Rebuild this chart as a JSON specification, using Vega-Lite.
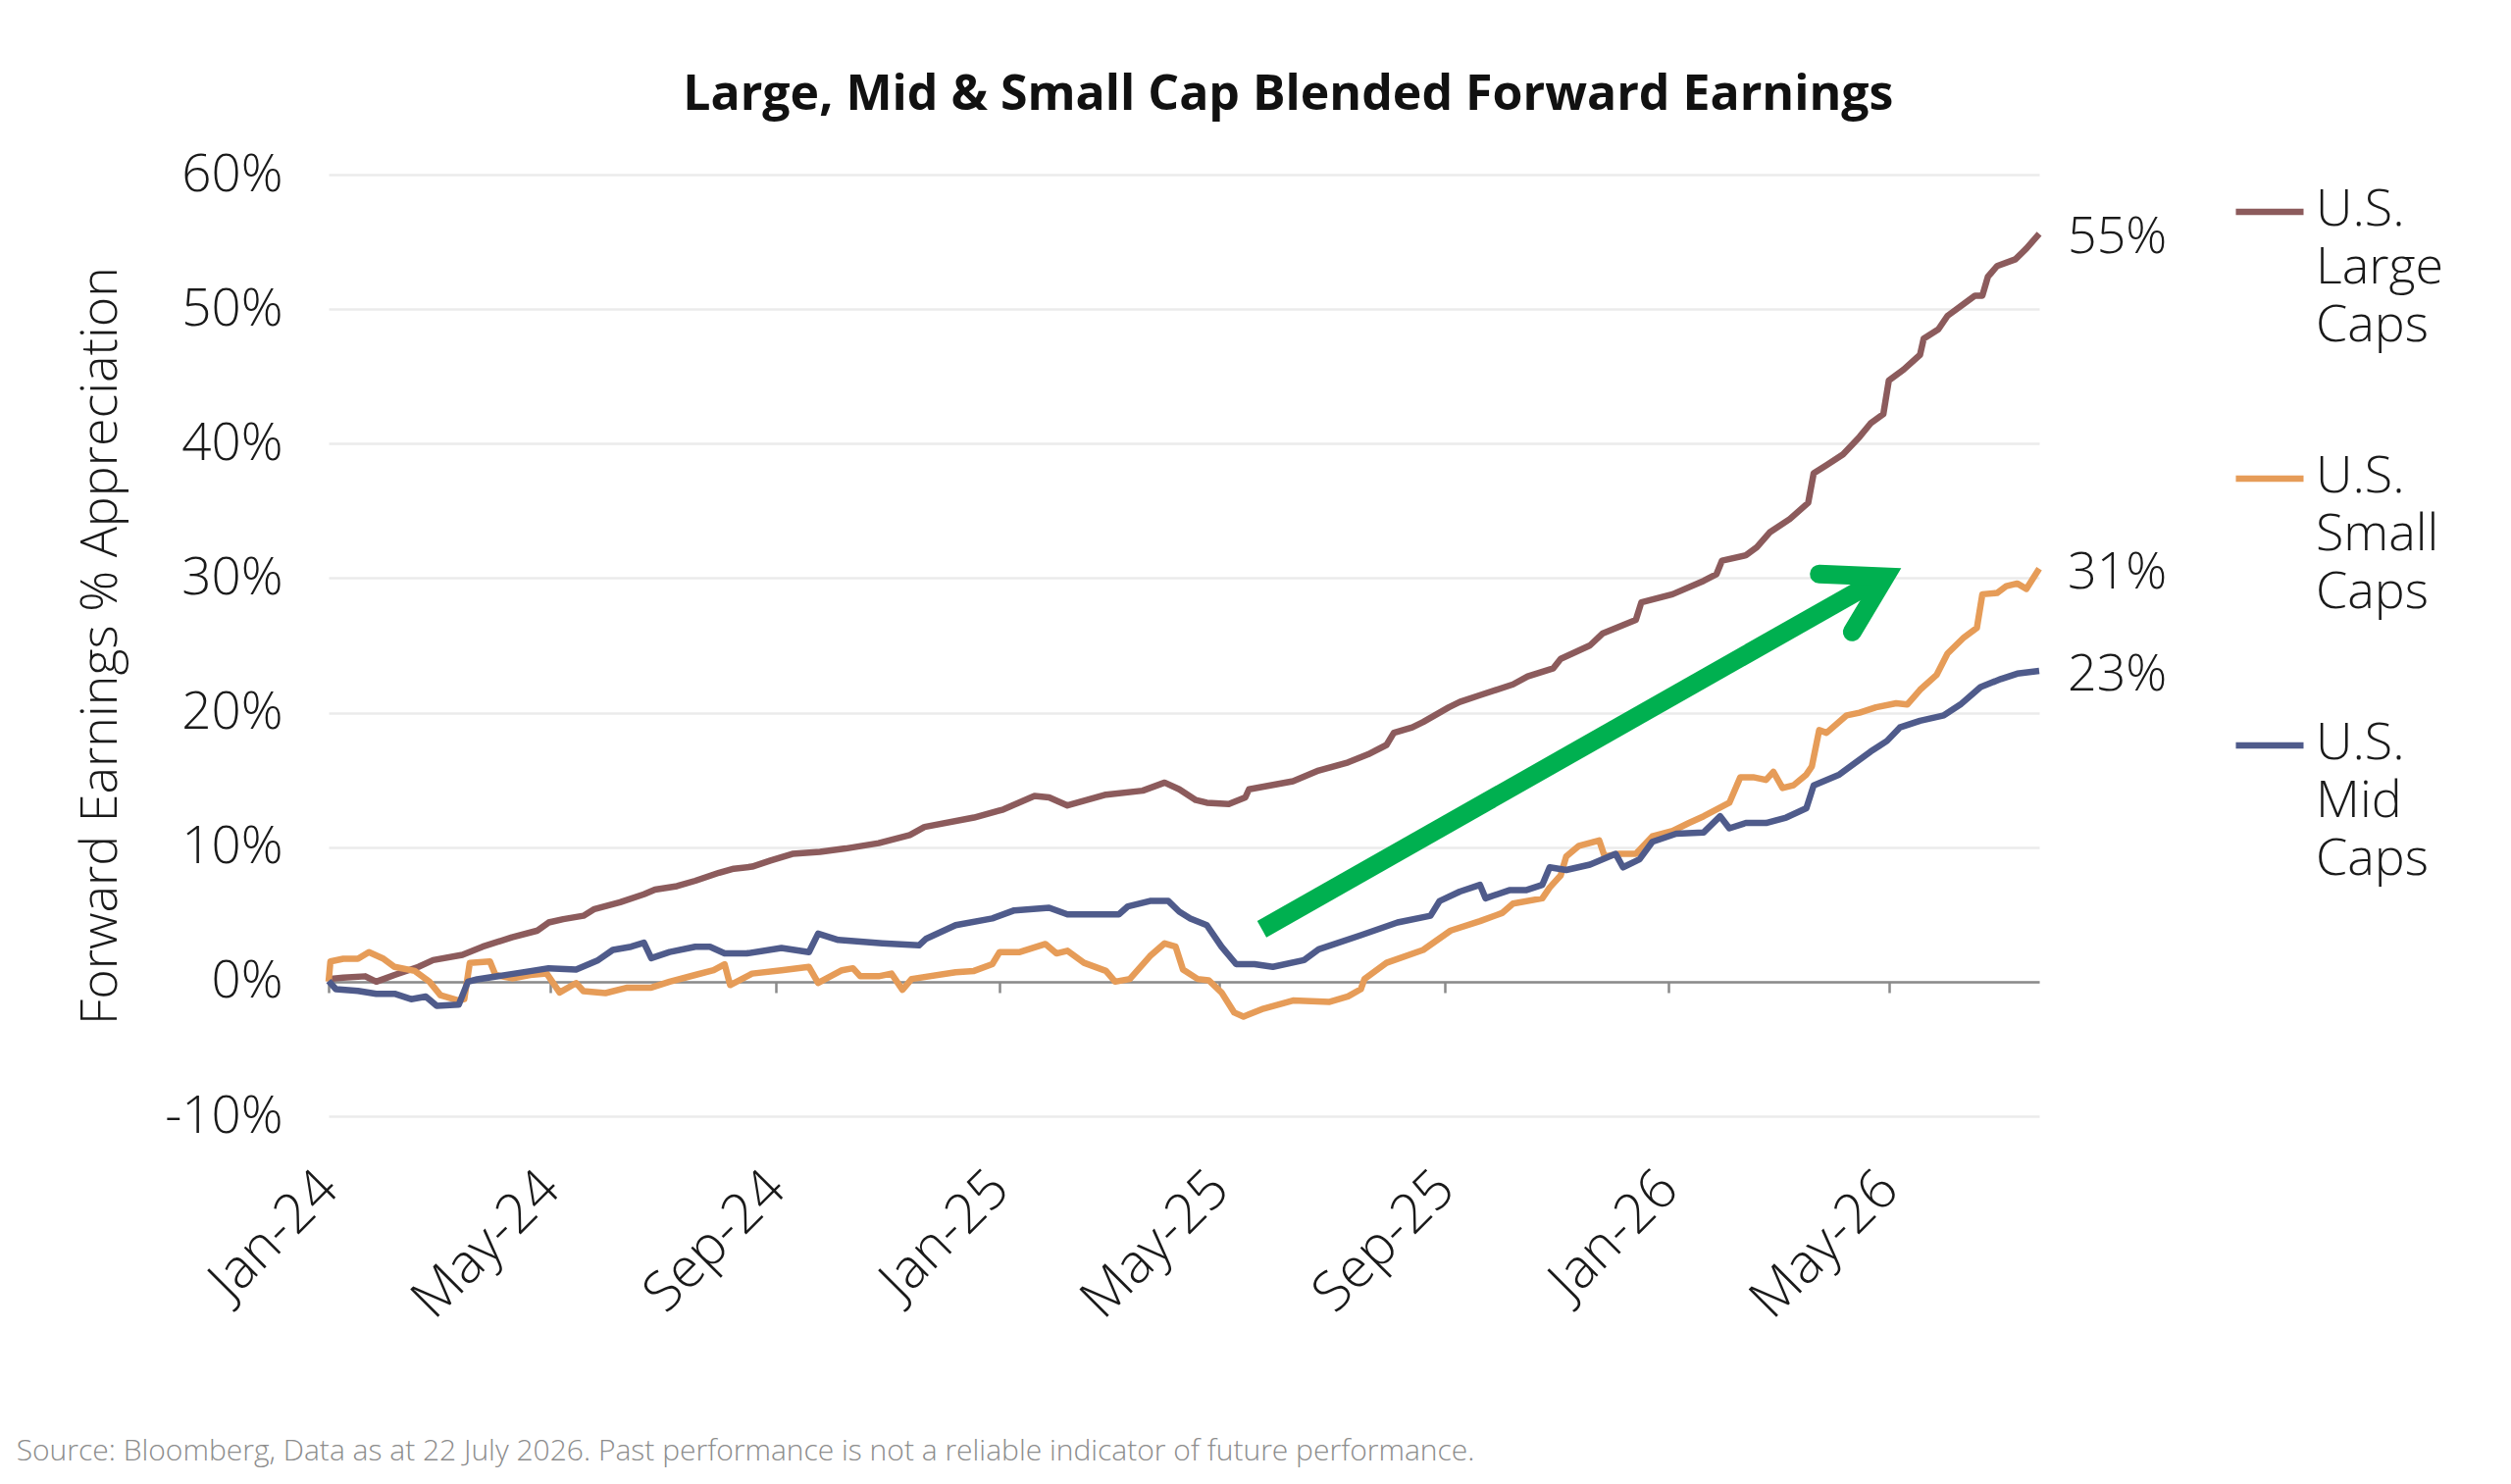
{
  "$schema": "https://vega.github.io/schema/vega-lite/v6.json",
  "background": "white",
  "padding": {"left": 16, "top": 72, "right": 20, "bottom": 18},
  "config": {"font": "Open Sans", "view": {"stroke": null}},
  "title": {
    "text": "Source: Bloomberg, Data as at 22 July 2026. Past performance is not a reliable indicator of future performance.",
    "orient": "bottom",
    "anchor": "start",
    "frame": "bounds",
    "fontSize": 30,
    "fontWeight": 300,
    "color": "#8c8c8c",
    "offset": 111,
    "dx": -60
  },
  "resolve": {"legend": {"color": "independent"}},
  "datasets": {
    "series": [
      {"series": "U.S. Large Caps", "date": "2024-01-01", "value": 0.2},
      {"series": "U.S. Large Caps", "date": "2024-01-09", "value": 0.3},
      {"series": "U.S. Large Caps", "date": "2024-01-21", "value": 0.4},
      {"series": "U.S. Large Caps", "date": "2024-01-27", "value": 0.0},
      {"series": "U.S. Large Caps", "date": "2024-02-06", "value": 0.5},
      {"series": "U.S. Large Caps", "date": "2024-02-19", "value": 1.1},
      {"series": "U.S. Large Caps", "date": "2024-02-27", "value": 1.6},
      {"series": "U.S. Large Caps", "date": "2024-03-14", "value": 2.0},
      {"series": "U.S. Large Caps", "date": "2024-03-25", "value": 2.6},
      {"series": "U.S. Large Caps", "date": "2024-04-10", "value": 3.3},
      {"series": "U.S. Large Caps", "date": "2024-04-24", "value": 3.8},
      {"series": "U.S. Large Caps", "date": "2024-04-30", "value": 4.4},
      {"series": "U.S. Large Caps", "date": "2024-05-08", "value": 4.65},
      {"series": "U.S. Large Caps", "date": "2024-05-19", "value": 4.9},
      {"series": "U.S. Large Caps", "date": "2024-05-25", "value": 5.4},
      {"series": "U.S. Large Caps", "date": "2024-06-08", "value": 5.9},
      {"series": "U.S. Large Caps", "date": "2024-06-21", "value": 6.5},
      {"series": "U.S. Large Caps", "date": "2024-06-27", "value": 6.85},
      {"series": "U.S. Large Caps", "date": "2024-07-09", "value": 7.1},
      {"series": "U.S. Large Caps", "date": "2024-07-19", "value": 7.5},
      {"series": "U.S. Large Caps", "date": "2024-08-01", "value": 8.1},
      {"series": "U.S. Large Caps", "date": "2024-08-09", "value": 8.4},
      {"series": "U.S. Large Caps", "date": "2024-08-19", "value": 8.55},
      {"series": "U.S. Large Caps", "date": "2024-08-29", "value": 9.0},
      {"series": "U.S. Large Caps", "date": "2024-09-10", "value": 9.5},
      {"series": "U.S. Large Caps", "date": "2024-09-25", "value": 9.65},
      {"series": "U.S. Large Caps", "date": "2024-10-09", "value": 9.9},
      {"series": "U.S. Large Caps", "date": "2024-10-27", "value": 10.3},
      {"series": "U.S. Large Caps", "date": "2024-11-13", "value": 10.9},
      {"series": "U.S. Large Caps", "date": "2024-11-21", "value": 11.5},
      {"series": "U.S. Large Caps", "date": "2024-12-18", "value": 12.2},
      {"series": "U.S. Large Caps", "date": "2025-01-03", "value": 12.8},
      {"series": "U.S. Large Caps", "date": "2025-01-20", "value": 13.8},
      {"series": "U.S. Large Caps", "date": "2025-01-28", "value": 13.7},
      {"series": "U.S. Large Caps", "date": "2025-02-07", "value": 13.1},
      {"series": "U.S. Large Caps", "date": "2025-02-28", "value": 13.9},
      {"series": "U.S. Large Caps", "date": "2025-03-20", "value": 14.2},
      {"series": "U.S. Large Caps", "date": "2025-04-01", "value": 14.8},
      {"series": "U.S. Large Caps", "date": "2025-04-09", "value": 14.3},
      {"series": "U.S. Large Caps", "date": "2025-04-18", "value": 13.5},
      {"series": "U.S. Large Caps", "date": "2025-04-24", "value": 13.3},
      {"series": "U.S. Large Caps", "date": "2025-05-06", "value": 13.2},
      {"series": "U.S. Large Caps", "date": "2025-05-15", "value": 13.7},
      {"series": "U.S. Large Caps", "date": "2025-05-17", "value": 14.3},
      {"series": "U.S. Large Caps", "date": "2025-06-10", "value": 14.9},
      {"series": "U.S. Large Caps", "date": "2025-06-24", "value": 15.7},
      {"series": "U.S. Large Caps", "date": "2025-07-10", "value": 16.3},
      {"series": "U.S. Large Caps", "date": "2025-07-21", "value": 16.9},
      {"series": "U.S. Large Caps", "date": "2025-07-31", "value": 17.6},
      {"series": "U.S. Large Caps", "date": "2025-08-04", "value": 18.5},
      {"series": "U.S. Large Caps", "date": "2025-08-14", "value": 18.9},
      {"series": "U.S. Large Caps", "date": "2025-08-20", "value": 19.3},
      {"series": "U.S. Large Caps", "date": "2025-09-03", "value": 20.4},
      {"series": "U.S. Large Caps", "date": "2025-09-09", "value": 20.8},
      {"series": "U.S. Large Caps", "date": "2025-09-20", "value": 21.3},
      {"series": "U.S. Large Caps", "date": "2025-10-08", "value": 22.1},
      {"series": "U.S. Large Caps", "date": "2025-10-16", "value": 22.7},
      {"series": "U.S. Large Caps", "date": "2025-10-30", "value": 23.3},
      {"series": "U.S. Large Caps", "date": "2025-11-03", "value": 24.0},
      {"series": "U.S. Large Caps", "date": "2025-11-19", "value": 25.0},
      {"series": "U.S. Large Caps", "date": "2025-11-26", "value": 25.9},
      {"series": "U.S. Large Caps", "date": "2025-12-14", "value": 26.9},
      {"series": "U.S. Large Caps", "date": "2025-12-17", "value": 28.2},
      {"series": "U.S. Large Caps", "date": "2026-01-03", "value": 28.8},
      {"series": "U.S. Large Caps", "date": "2026-01-20", "value": 29.8},
      {"series": "U.S. Large Caps", "date": "2026-01-27", "value": 30.3},
      {"series": "U.S. Large Caps", "date": "2026-01-30", "value": 31.3},
      {"series": "U.S. Large Caps", "date": "2026-02-12", "value": 31.7},
      {"series": "U.S. Large Caps", "date": "2026-02-18", "value": 32.3},
      {"series": "U.S. Large Caps", "date": "2026-02-25", "value": 33.4},
      {"series": "U.S. Large Caps", "date": "2026-03-08", "value": 34.4},
      {"series": "U.S. Large Caps", "date": "2026-03-18", "value": 35.6},
      {"series": "U.S. Large Caps", "date": "2026-03-21", "value": 37.8},
      {"series": "U.S. Large Caps", "date": "2026-03-28", "value": 38.4},
      {"series": "U.S. Large Caps", "date": "2026-04-06", "value": 39.2},
      {"series": "U.S. Large Caps", "date": "2026-04-15", "value": 40.5},
      {"series": "U.S. Large Caps", "date": "2026-04-21", "value": 41.5},
      {"series": "U.S. Large Caps", "date": "2026-04-28", "value": 42.2},
      {"series": "U.S. Large Caps", "date": "2026-05-01", "value": 44.7},
      {"series": "U.S. Large Caps", "date": "2026-05-09", "value": 45.5},
      {"series": "U.S. Large Caps", "date": "2026-05-18", "value": 46.6},
      {"series": "U.S. Large Caps", "date": "2026-05-20", "value": 47.8},
      {"series": "U.S. Large Caps", "date": "2026-05-28", "value": 48.5},
      {"series": "U.S. Large Caps", "date": "2026-06-02", "value": 49.5},
      {"series": "U.S. Large Caps", "date": "2026-06-11", "value": 50.4},
      {"series": "U.S. Large Caps", "date": "2026-06-17", "value": 51.0},
      {"series": "U.S. Large Caps", "date": "2026-06-21", "value": 51.0},
      {"series": "U.S. Large Caps", "date": "2026-06-24", "value": 52.4},
      {"series": "U.S. Large Caps", "date": "2026-06-29", "value": 53.2},
      {"series": "U.S. Large Caps", "date": "2026-07-09", "value": 53.7},
      {"series": "U.S. Large Caps", "date": "2026-07-15", "value": 54.5},
      {"series": "U.S. Large Caps", "date": "2026-07-22", "value": 55.6},

      {"series": "U.S. Small Caps", "date": "2024-01-01", "value": 0.0},
      {"series": "U.S. Small Caps", "date": "2024-01-02", "value": 1.5},
      {"series": "U.S. Small Caps", "date": "2024-01-09", "value": 1.7},
      {"series": "U.S. Small Caps", "date": "2024-01-17", "value": 1.7},
      {"series": "U.S. Small Caps", "date": "2024-01-23", "value": 2.2},
      {"series": "U.S. Small Caps", "date": "2024-01-31", "value": 1.7},
      {"series": "U.S. Small Caps", "date": "2024-02-06", "value": 1.1},
      {"series": "U.S. Small Caps", "date": "2024-02-17", "value": 0.8},
      {"series": "U.S. Small Caps", "date": "2024-02-25", "value": 0.0},
      {"series": "U.S. Small Caps", "date": "2024-03-02", "value": -1.0},
      {"series": "U.S. Small Caps", "date": "2024-03-12", "value": -1.4},
      {"series": "U.S. Small Caps", "date": "2024-03-15", "value": -1.3},
      {"series": "U.S. Small Caps", "date": "2024-03-18", "value": 1.4},
      {"series": "U.S. Small Caps", "date": "2024-03-29", "value": 1.5},
      {"series": "U.S. Small Caps", "date": "2024-04-01", "value": 0.5},
      {"series": "U.S. Small Caps", "date": "2024-04-10", "value": 0.25},
      {"series": "U.S. Small Caps", "date": "2024-04-20", "value": 0.5},
      {"series": "U.S. Small Caps", "date": "2024-04-29", "value": 0.6},
      {"series": "U.S. Small Caps", "date": "2024-05-06", "value": -0.8},
      {"series": "U.S. Small Caps", "date": "2024-05-15", "value": -0.1},
      {"series": "U.S. Small Caps", "date": "2024-05-19", "value": -0.7},
      {"series": "U.S. Small Caps", "date": "2024-05-31", "value": -0.85},
      {"series": "U.S. Small Caps", "date": "2024-06-12", "value": -0.44},
      {"series": "U.S. Small Caps", "date": "2024-06-25", "value": -0.44},
      {"series": "U.S. Small Caps", "date": "2024-07-05", "value": 0.0},
      {"series": "U.S. Small Caps", "date": "2024-07-19", "value": 0.5},
      {"series": "U.S. Small Caps", "date": "2024-07-29", "value": 0.85},
      {"series": "U.S. Small Caps", "date": "2024-08-04", "value": 1.3},
      {"series": "U.S. Small Caps", "date": "2024-08-07", "value": -0.25},
      {"series": "U.S. Small Caps", "date": "2024-08-19", "value": 0.6},
      {"series": "U.S. Small Caps", "date": "2024-09-04", "value": 0.85},
      {"series": "U.S. Small Caps", "date": "2024-09-19", "value": 1.1},
      {"series": "U.S. Small Caps", "date": "2024-09-24", "value": -0.1},
      {"series": "U.S. Small Caps", "date": "2024-10-07", "value": 0.85},
      {"series": "U.S. Small Caps", "date": "2024-10-13", "value": 1.0},
      {"series": "U.S. Small Caps", "date": "2024-10-17", "value": 0.4},
      {"series": "U.S. Small Caps", "date": "2024-10-27", "value": 0.4},
      {"series": "U.S. Small Caps", "date": "2024-11-03", "value": 0.6},
      {"series": "U.S. Small Caps", "date": "2024-11-09", "value": -0.6},
      {"series": "U.S. Small Caps", "date": "2024-11-14", "value": 0.2},
      {"series": "U.S. Small Caps", "date": "2024-12-08", "value": 0.7},
      {"series": "U.S. Small Caps", "date": "2024-12-18", "value": 0.8},
      {"series": "U.S. Small Caps", "date": "2024-12-28", "value": 1.3},
      {"series": "U.S. Small Caps", "date": "2025-01-01", "value": 2.2},
      {"series": "U.S. Small Caps", "date": "2025-01-12", "value": 2.2},
      {"series": "U.S. Small Caps", "date": "2025-01-26", "value": 2.8},
      {"series": "U.S. Small Caps", "date": "2025-02-01", "value": 2.1},
      {"series": "U.S. Small Caps", "date": "2025-02-07", "value": 2.3},
      {"series": "U.S. Small Caps", "date": "2025-02-16", "value": 1.4},
      {"series": "U.S. Small Caps", "date": "2025-02-28", "value": 0.8},
      {"series": "U.S. Small Caps", "date": "2025-03-05", "value": 0.0},
      {"series": "U.S. Small Caps", "date": "2025-03-13", "value": 0.2},
      {"series": "U.S. Small Caps", "date": "2025-03-24", "value": 1.9},
      {"series": "U.S. Small Caps", "date": "2025-04-01", "value": 2.85},
      {"series": "U.S. Small Caps", "date": "2025-04-07", "value": 2.6},
      {"series": "U.S. Small Caps", "date": "2025-04-11", "value": 0.9},
      {"series": "U.S. Small Caps", "date": "2025-04-19", "value": 0.2},
      {"series": "U.S. Small Caps", "date": "2025-04-25", "value": 0.1},
      {"series": "U.S. Small Caps", "date": "2025-05-02", "value": -0.8},
      {"series": "U.S. Small Caps", "date": "2025-05-09", "value": -2.3},
      {"series": "U.S. Small Caps", "date": "2025-05-14", "value": -2.6},
      {"series": "U.S. Small Caps", "date": "2025-05-25", "value": -2.0},
      {"series": "U.S. Small Caps", "date": "2025-06-10", "value": -1.4},
      {"series": "U.S. Small Caps", "date": "2025-06-30", "value": -1.5},
      {"series": "U.S. Small Caps", "date": "2025-07-10", "value": -1.1},
      {"series": "U.S. Small Caps", "date": "2025-07-17", "value": -0.56},
      {"series": "U.S. Small Caps", "date": "2025-07-19", "value": 0.2},
      {"series": "U.S. Small Caps", "date": "2025-07-31", "value": 1.4},
      {"series": "U.S. Small Caps", "date": "2025-08-20", "value": 2.36},
      {"series": "U.S. Small Caps", "date": "2025-09-04", "value": 3.8},
      {"series": "U.S. Small Caps", "date": "2025-09-20", "value": 4.5},
      {"series": "U.S. Small Caps", "date": "2025-10-02", "value": 5.1},
      {"series": "U.S. Small Caps", "date": "2025-10-08", "value": 5.8},
      {"series": "U.S. Small Caps", "date": "2025-10-24", "value": 6.2},
      {"series": "U.S. Small Caps", "date": "2025-10-28", "value": 7.0},
      {"series": "U.S. Small Caps", "date": "2025-11-03", "value": 7.9},
      {"series": "U.S. Small Caps", "date": "2025-11-06", "value": 9.3},
      {"series": "U.S. Small Caps", "date": "2025-11-13", "value": 10.1},
      {"series": "U.S. Small Caps", "date": "2025-11-24", "value": 10.5},
      {"series": "U.S. Small Caps", "date": "2025-11-27", "value": 9.3},
      {"series": "U.S. Small Caps", "date": "2025-12-05", "value": 9.5},
      {"series": "U.S. Small Caps", "date": "2025-12-14", "value": 9.5},
      {"series": "U.S. Small Caps", "date": "2025-12-23", "value": 10.8},
      {"series": "U.S. Small Caps", "date": "2026-01-03", "value": 11.2},
      {"series": "U.S. Small Caps", "date": "2026-01-12", "value": 11.8},
      {"series": "U.S. Small Caps", "date": "2026-01-20", "value": 12.3},
      {"series": "U.S. Small Caps", "date": "2026-02-03", "value": 13.3},
      {"series": "U.S. Small Caps", "date": "2026-02-09", "value": 15.2},
      {"series": "U.S. Small Caps", "date": "2026-02-16", "value": 15.2},
      {"series": "U.S. Small Caps", "date": "2026-02-23", "value": 15.0},
      {"series": "U.S. Small Caps", "date": "2026-02-27", "value": 15.6},
      {"series": "U.S. Small Caps", "date": "2026-03-04", "value": 14.4},
      {"series": "U.S. Small Caps", "date": "2026-03-10", "value": 14.6},
      {"series": "U.S. Small Caps", "date": "2026-03-17", "value": 15.4},
      {"series": "U.S. Small Caps", "date": "2026-03-20", "value": 16.0},
      {"series": "U.S. Small Caps", "date": "2026-03-24", "value": 18.7},
      {"series": "U.S. Small Caps", "date": "2026-03-28", "value": 18.5},
      {"series": "U.S. Small Caps", "date": "2026-04-08", "value": 19.8},
      {"series": "U.S. Small Caps", "date": "2026-04-15", "value": 20.0},
      {"series": "U.S. Small Caps", "date": "2026-04-24", "value": 20.4},
      {"series": "U.S. Small Caps", "date": "2026-05-05", "value": 20.7},
      {"series": "U.S. Small Caps", "date": "2026-05-11", "value": 20.6},
      {"series": "U.S. Small Caps", "date": "2026-05-18", "value": 21.7},
      {"series": "U.S. Small Caps", "date": "2026-05-27", "value": 22.8},
      {"series": "U.S. Small Caps", "date": "2026-06-02", "value": 24.4},
      {"series": "U.S. Small Caps", "date": "2026-06-11", "value": 25.6},
      {"series": "U.S. Small Caps", "date": "2026-06-18", "value": 26.3},
      {"series": "U.S. Small Caps", "date": "2026-06-21", "value": 28.8},
      {"series": "U.S. Small Caps", "date": "2026-06-29", "value": 28.9},
      {"series": "U.S. Small Caps", "date": "2026-07-04", "value": 29.4},
      {"series": "U.S. Small Caps", "date": "2026-07-10", "value": 29.6},
      {"series": "U.S. Small Caps", "date": "2026-07-15", "value": 29.2},
      {"series": "U.S. Small Caps", "date": "2026-07-22", "value": 30.7},

      {"series": "U.S. Mid Caps", "date": "2024-01-01", "value": 0.05},
      {"series": "U.S. Mid Caps", "date": "2024-01-05", "value": -0.56},
      {"series": "U.S. Mid Caps", "date": "2024-01-17", "value": -0.68},
      {"series": "U.S. Mid Caps", "date": "2024-01-27", "value": -0.9},
      {"series": "U.S. Mid Caps", "date": "2024-02-06", "value": -0.9},
      {"series": "U.S. Mid Caps", "date": "2024-02-15", "value": -1.3},
      {"series": "U.S. Mid Caps", "date": "2024-02-23", "value": -1.1},
      {"series": "U.S. Mid Caps", "date": "2024-02-29", "value": -1.8},
      {"series": "U.S. Mid Caps", "date": "2024-03-12", "value": -1.7},
      {"series": "U.S. Mid Caps", "date": "2024-03-17", "value": 0.0},
      {"series": "U.S. Mid Caps", "date": "2024-03-22", "value": 0.17},
      {"series": "U.S. Mid Caps", "date": "2024-04-08", "value": 0.53},
      {"series": "U.S. Mid Caps", "date": "2024-04-20", "value": 0.78},
      {"series": "U.S. Mid Caps", "date": "2024-04-30", "value": 1.0},
      {"series": "U.S. Mid Caps", "date": "2024-05-15", "value": 0.9},
      {"series": "U.S. Mid Caps", "date": "2024-05-27", "value": 1.6},
      {"series": "U.S. Mid Caps", "date": "2024-06-04", "value": 2.36},
      {"series": "U.S. Mid Caps", "date": "2024-06-14", "value": 2.6},
      {"series": "U.S. Mid Caps", "date": "2024-06-21", "value": 2.9},
      {"series": "U.S. Mid Caps", "date": "2024-06-25", "value": 1.75},
      {"series": "U.S. Mid Caps", "date": "2024-07-05", "value": 2.2},
      {"series": "U.S. Mid Caps", "date": "2024-07-19", "value": 2.6},
      {"series": "U.S. Mid Caps", "date": "2024-07-27", "value": 2.6},
      {"series": "U.S. Mid Caps", "date": "2024-08-04", "value": 2.1},
      {"series": "U.S. Mid Caps", "date": "2024-08-16", "value": 2.1},
      {"series": "U.S. Mid Caps", "date": "2024-09-04", "value": 2.5},
      {"series": "U.S. Mid Caps", "date": "2024-09-19", "value": 2.2},
      {"series": "U.S. Mid Caps", "date": "2024-09-24", "value": 3.57},
      {"series": "U.S. Mid Caps", "date": "2024-10-05", "value": 3.1},
      {"series": "U.S. Mid Caps", "date": "2024-10-29", "value": 2.85},
      {"series": "U.S. Mid Caps", "date": "2024-11-18", "value": 2.7},
      {"series": "U.S. Mid Caps", "date": "2024-11-22", "value": 3.2},
      {"series": "U.S. Mid Caps", "date": "2024-12-08", "value": 4.2},
      {"series": "U.S. Mid Caps", "date": "2024-12-28", "value": 4.7},
      {"series": "U.S. Mid Caps", "date": "2025-01-09", "value": 5.3},
      {"series": "U.S. Mid Caps", "date": "2025-01-28", "value": 5.5},
      {"series": "U.S. Mid Caps", "date": "2025-02-07", "value": 5.0},
      {"series": "U.S. Mid Caps", "date": "2025-03-07", "value": 5.0},
      {"series": "U.S. Mid Caps", "date": "2025-03-12", "value": 5.6},
      {"series": "U.S. Mid Caps", "date": "2025-03-24", "value": 6.0},
      {"series": "U.S. Mid Caps", "date": "2025-04-03", "value": 6.0},
      {"series": "U.S. Mid Caps", "date": "2025-04-09", "value": 5.2},
      {"series": "U.S. Mid Caps", "date": "2025-04-15", "value": 4.7},
      {"series": "U.S. Mid Caps", "date": "2025-04-24", "value": 4.2},
      {"series": "U.S. Mid Caps", "date": "2025-05-02", "value": 2.6},
      {"series": "U.S. Mid Caps", "date": "2025-05-10", "value": 1.3},
      {"series": "U.S. Mid Caps", "date": "2025-05-20", "value": 1.3},
      {"series": "U.S. Mid Caps", "date": "2025-05-30", "value": 1.1},
      {"series": "U.S. Mid Caps", "date": "2025-06-16", "value": 1.6},
      {"series": "U.S. Mid Caps", "date": "2025-06-24", "value": 2.4},
      {"series": "U.S. Mid Caps", "date": "2025-07-17", "value": 3.45},
      {"series": "U.S. Mid Caps", "date": "2025-08-06", "value": 4.4},
      {"series": "U.S. Mid Caps", "date": "2025-08-24", "value": 4.9},
      {"series": "U.S. Mid Caps", "date": "2025-08-29", "value": 6.0},
      {"series": "U.S. Mid Caps", "date": "2025-09-09", "value": 6.7},
      {"series": "U.S. Mid Caps", "date": "2025-09-20", "value": 7.2},
      {"series": "U.S. Mid Caps", "date": "2025-09-23", "value": 6.2},
      {"series": "U.S. Mid Caps", "date": "2025-10-06", "value": 6.8},
      {"series": "U.S. Mid Caps", "date": "2025-10-15", "value": 6.8},
      {"series": "U.S. Mid Caps", "date": "2025-10-24", "value": 7.2},
      {"series": "U.S. Mid Caps", "date": "2025-10-28", "value": 8.5},
      {"series": "U.S. Mid Caps", "date": "2025-11-06", "value": 8.3},
      {"series": "U.S. Mid Caps", "date": "2025-11-19", "value": 8.7},
      {"series": "U.S. Mid Caps", "date": "2025-12-03", "value": 9.5},
      {"series": "U.S. Mid Caps", "date": "2025-12-07", "value": 8.5},
      {"series": "U.S. Mid Caps", "date": "2025-12-16", "value": 9.1},
      {"series": "U.S. Mid Caps", "date": "2025-12-23", "value": 10.4},
      {"series": "U.S. Mid Caps", "date": "2026-01-05", "value": 11.0},
      {"series": "U.S. Mid Caps", "date": "2026-01-20", "value": 11.1},
      {"series": "U.S. Mid Caps", "date": "2026-01-29", "value": 12.3},
      {"series": "U.S. Mid Caps", "date": "2026-02-03", "value": 11.4},
      {"series": "U.S. Mid Caps", "date": "2026-02-12", "value": 11.8},
      {"series": "U.S. Mid Caps", "date": "2026-02-23", "value": 11.8},
      {"series": "U.S. Mid Caps", "date": "2026-03-06", "value": 12.2},
      {"series": "U.S. Mid Caps", "date": "2026-03-17", "value": 12.9},
      {"series": "U.S. Mid Caps", "date": "2026-03-21", "value": 14.6},
      {"series": "U.S. Mid Caps", "date": "2026-04-04", "value": 15.4},
      {"series": "U.S. Mid Caps", "date": "2026-04-10", "value": 16.0},
      {"series": "U.S. Mid Caps", "date": "2026-04-21", "value": 17.1},
      {"series": "U.S. Mid Caps", "date": "2026-04-30", "value": 17.9},
      {"series": "U.S. Mid Caps", "date": "2026-05-07", "value": 18.9},
      {"series": "U.S. Mid Caps", "date": "2026-05-18", "value": 19.4},
      {"series": "U.S. Mid Caps", "date": "2026-05-31", "value": 19.8},
      {"series": "U.S. Mid Caps", "date": "2026-06-09", "value": 20.6},
      {"series": "U.S. Mid Caps", "date": "2026-06-20", "value": 21.9},
      {"series": "U.S. Mid Caps", "date": "2026-07-01", "value": 22.5},
      {"series": "U.S. Mid Caps", "date": "2026-07-10", "value": 22.9},
      {"series": "U.S. Mid Caps", "date": "2026-07-22", "value": 23.1}
    ],
    "arrowShaft": [
      {"date": "2025-05-24", "value": 3.9},
      {"date": "2026-04-24", "value": 29.8}
    ],
    "arrowHead": [
      {"step": 1, "date": "2026-03-24", "value": 30.3},
      {"step": 2, "date": "2026-04-29", "value": 30.1},
      {"step": 3, "date": "2026-04-11", "value": 26.0}
    ],
    "endLabels": [
      {"date": "2026-07-22", "value": 55.6, "label": "55%"},
      {"date": "2026-07-22", "value": 30.7, "label": "31%"},
      {"date": "2026-07-22", "value": 23.1, "label": "23%"}
    ]
  },
  "vconcat": [
    {
      "width": 1744,
      "height": 960,
      "title": {
        "text": "Large, Mid & Small Cap Blended Forward Earnings",
        "fontSize": 50,
        "fontWeight": 700,
        "color": "#111111",
        "anchor": "middle",
        "frame": "bounds",
        "offset": 30,
        "dx": 29
      },
      "encoding": {
        "x": {
          "field": "date",
          "type": "temporal",
          "scale": {
            "type": "utc",
            "domain": [
              {"year": 2024, "month": 1, "date": 1, "utc": true},
              {"year": 2026, "month": 7, "date": 22, "utc": true}
            ]
          },
          "axis": {
            "title": null,
            "values": [
              {"year": 2024, "month": 1, "date": 1, "utc": true},
              {"year": 2024, "month": 5, "date": 1, "utc": true},
              {"year": 2024, "month": 9, "date": 1, "utc": true},
              {"year": 2025, "month": 1, "date": 1, "utc": true},
              {"year": 2025, "month": 5, "date": 1, "utc": true},
              {"year": 2025, "month": 9, "date": 1, "utc": true},
              {"year": 2026, "month": 1, "date": 1, "utc": true},
              {"year": 2026, "month": 5, "date": 1, "utc": true}
            ],
            "format": "%b-%y",
            "grid": false,
            "labelAngle": -45,
            "labelAlign": "right",
            "labelBaseline": "middle",
            "labelFontSize": 56,
            "labelFontWeight": 300,
            "labelColor": "#1a1a1a",
            "labelOverlap": false,
            "labelFlush": false,
            "labelLimit": 0,
            "labelPadding": 191,
            "tickSize": 11,
            "tickWidth": 2.5,
            "tickColor": "#8a8a8a",
            "domainColor": "#8a8a8a",
            "domainWidth": 2.5,
            "offset": -137
          }
        },
        "y": {
          "field": "value",
          "type": "quantitative",
          "scale": {"domain": [-10, 60], "nice": false},
          "axis": {
            "title": "Forward Earnings % Appreciation",
            "titleFontSize": 52,
            "titleFontWeight": 300,
            "titleColor": "#1a1a1a",
            "titlePadding": 38,
            "values": [-10, 0, 10, 20, 30, 40, 50, 60],
            "labelExpr": "datum.value + '%'",
            "labelFontSize": 53,
            "labelFontWeight": 300,
            "labelColor": "#1a1a1a",
            "labelPadding": 47,
            "ticks": false,
            "domain": false,
            "gridColor": "#ebebeb",
            "gridWidth": 2.5
          }
        }
      },
      "layer": [
        {
          "data": {"name": "series"},
          "mark": {"type": "line", "strokeWidth": 6.5, "strokeJoin": "round"},
          "encoding": {
            "color": {
              "field": "series",
              "type": "nominal",
              "scale": {
                "domain": ["U.S. Large Caps", "U.S. Small Caps", "U.S. Mid Caps"],
                "range": ["#8c5b5c", "#e69c58", "#4f5b8b"]
              },
              "legend": {
                "title": null,
                "orient": "right",
                "offset": 193,
                "padding": 0,
                "symbolType": "stroke",
                "symbolSize": 4761,
                "symbolStrokeWidth": 6.5,
                "labelFontSize": 52,
                "labelFontWeight": 300,
                "labelColor": "#1a1a1a",
                "labelExpr": "split(datum.label, ' ')",
                "labelBaseline": "top",
                "labelOffset": 9,
                "labelLimit": 0,
                "rowPadding": 92,
                "encode": {
                  "labels": {
                    "update": {
                      "lineHeight": {"value": 59},
                      "dy": {"value": -27}
                    }
                  }
                }
              }
            }
          }
        },
        {
          "data": {"name": "arrowShaft"},
          "mark": {"type": "line", "color": "#00b050", "strokeWidth": 19, "strokeCap": "butt"},
          "encoding": {}
        },
        {
          "data": {"name": "arrowHead"},
          "mark": {"type": "line", "color": "#00b050", "strokeWidth": 19, "strokeCap": "round", "strokeJoin": "miter"},
          "encoding": {"order": {"field": "step", "type": "quantitative"}}
        },
        {
          "data": {"name": "endLabels"},
          "mark": {"type": "text", "align": "left", "baseline": "middle", "dx": 29, "dy": 4, "fontSize": 52, "fontWeight": 300, "color": "#1a1a1a"},
          "encoding": {"text": {"field": "label", "type": "nominal"}}
        }
      ]
    }
  ]
}
